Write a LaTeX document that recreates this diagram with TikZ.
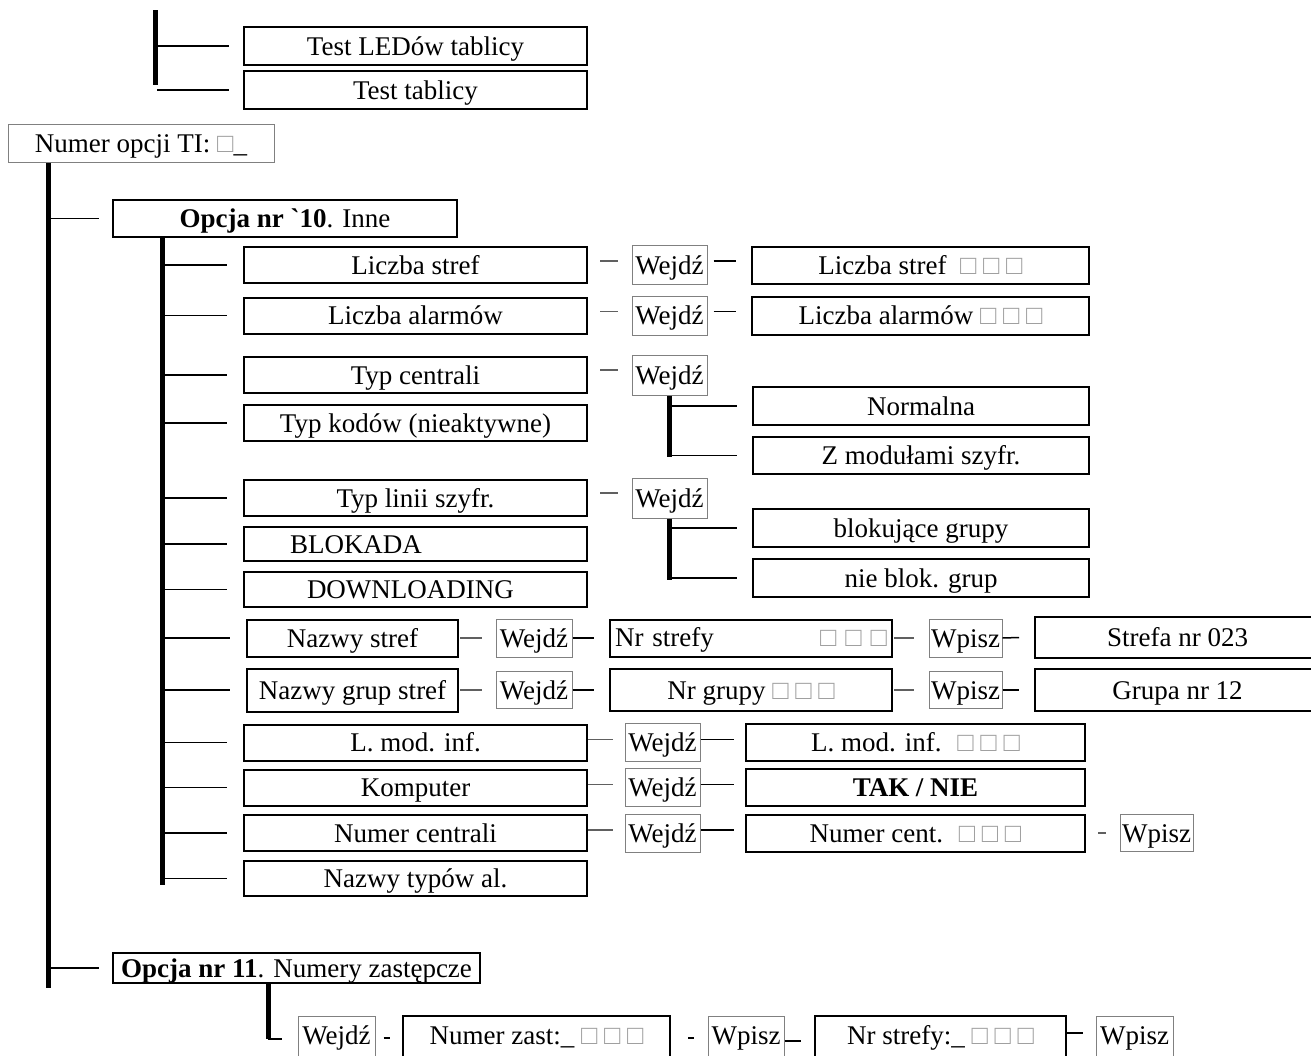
\documentclass[tikz,border=0pt]{standalone}
\usepackage{fontspec}
\setmainfont{Liberation Serif}
\newfontfamily\rawserif{Liberation Serif}[Ligatures=TeXOff]
\usetikzlibrary{calc}
\definecolor{sq}{HTML}{A0A0A0}
\definecolor{gbord}{HTML}{808080}
\definecolor{gdash}{HTML}{606060}
\newcommand\sqs{\textcolor{sq}{□ □ □}}
% name, x1, x2, cy, h, style, text
\newcommand\mybox[7]{\node[#6, minimum width={(#3-#2)*1pt}, minimum height={#5*1pt}] (#1) at ({(#2+#3)/2},#4) {#7};}
\tikzset{
  every node/.style={font=\fontsize{27}{32}\selectfont, inner sep=0pt, text height=18pt, text depth=0pt},
  bb/.style={draw=black, line width=2pt},
  gb/.style={draw=gbord, line width=1pt},
  bar/.style={line width=5pt},
  tl/.style={line width=1.5pt},
  gd/.style={line width=1.3pt, draw=gdash},
  bot/.style={text depth=10pt},
}
\newcommand\twig[1]{\draw[tl] (s2 |- #1.west) -- ([xshift=-16pt]#1.west);}
\begin{document}
\begin{tikzpicture}[x=1pt,y=-1pt]
\useasboundingbox (0,0) rectangle (1311,1055);
% ---------- top
\mybox{tled}{244}{587}{46}{38}{bb}{Test LEDów tablicy}
\mybox{ttab}{244}{587}{90}{38}{bb}{Test tablicy}
\coordinate (t1) at (155,10);
\coordinate (t2) at (155,85);
\draw[bar] (t1) -- (t2);
\draw[tl] ([xshift=-86pt]tled.west) -- ([xshift=-14pt]tled.west);
\draw[tl] ([xshift=-86pt]ttab.west) -- ([xshift=-14pt]ttab.west);
% ---------- root
\mybox{nop}{8}{274}{143}{38}{gb}{Numer opcji TI: \textcolor{sq}{□}\_}
\coordinate (m2) at (48,988);
\draw[bar] (nop.south -| m2) -- (m2);
\mybox{o10}{113}{457}{218.5}{37}{bb}{\textbf{Opcja nr {\rawserif`}10}. Inne}
\draw[tl] (m2 |- o10.west) -- ([xshift=-13pt]o10.west);
\coordinate (s2) at (162,885);
\draw[bar] (o10.south -| s2) -- (s2);
% ---------- row 1
\mybox{ls}{244}{587}{265}{36}{bb}{Liczba stref}
\mybox{wa}{632}{707}{265}{39}{gb}{Wejdź}
\mybox{rs}{752}{1089}{265}{37}{bb}{Liczba stref~ \sqs}
\twig{ls}
\draw[gd] ([xshift=12pt,yshift=4pt]ls.east) -- ([xshift=-14pt,yshift=4pt]wa.west);
\draw[tl] ([xshift=6pt,yshift=4pt]wa.east) -- ([xshift=-15pt,yshift=4pt]rs.west);
% ---------- row 2
\mybox{la}{244}{587}{315.5}{36}{bb}{Liczba alarmów}
\mybox{wb}{632}{707}{315.5}{39}{gb}{Wejdź}
\mybox{ra}{752}{1089}{315.5}{38}{bb}{Liczba alarmów \sqs}
\twig{la}
\draw[gd] ([xshift=12pt,yshift=4pt]la.east) -- ([xshift=-14pt,yshift=4pt]wb.west);
\draw[tl] ([xshift=6pt,yshift=4pt]wb.east) -- ([xshift=-15pt,yshift=4pt]ra.west);
% ---------- row 3
\mybox{tc}{244}{587}{375}{36}{bb}{Typ centrali}
\mybox{wc}{632}{707}{375}{40}{gb}{Wejdź}
\mybox{nor}{753}{1089}{406}{38}{bb}{Normalna}
\mybox{zm}{753}{1089}{455.5}{37}{bb}{Z modułami szyfr.}
\twig{tc}
\draw[gd] ([xshift=12pt,yshift=5pt]tc.east) -- ([xshift=-14pt,yshift=5pt]wc.west);
\draw[bar] (wc.south) -- ($(wc.south |- zm.west)+(0,1.5)$);
\draw[tl] (wc.south |- nor.west) -- ([xshift=-15pt]nor.west);
\draw[tl] (wc.south |- zm.west) -- ([xshift=-15pt]zm.west);
% ---------- row 4
\mybox{tk}{244}{587}{423}{36}{bb}{Typ kodów (nieaktywne)}
\twig{tk}
% ---------- row 5
\mybox{tli}{244}{587}{498}{36}{bb}{Typ linii szyfr.}
\mybox{wd}{632}{707}{498}{40}{gb}{Wejdź}
\mybox{blk}{753}{1089}{528}{38}{bb}{blokujące grupy}
\mybox{nbl}{753}{1089}{578}{38}{bb}{nie blok. grup}
\twig{tli}
\draw[gd] ([xshift=12pt,yshift=5pt]tli.east) -- ([xshift=-14pt,yshift=5pt]wd.west);
\draw[bar] (wd.south) -- ($(wd.south |- nbl.west)+(0,1.5)$);
\draw[tl] (wd.south |- blk.west) -- ([xshift=-15pt]blk.west);
\draw[tl] (wd.south |- nbl.west) -- ([xshift=-15pt]nbl.west);
% ---------- rows 6-7
\mybox{blo}{244}{587}{544}{34}{bb,text width=343pt,align=left}{\hspace*{46pt}BLOKADA}
\mybox{dl}{244}{587}{589.5}{35}{bb,text width=343pt,align=left}{\hspace*{63pt}DOWNLOADING}
\twig{blo}
\twig{dl}
% ---------- row 8
\mybox{ns}{247}{458}{638}{37}{bb}{Nazwy stref}
\mybox{wf}{496}{572}{638}{38}{gb}{Wejdź}
\mybox{nrs}{610}{892}{638}{37}{bb,text width=272pt,align=left,text height=16pt}{Nr strefy\hfill\sqs\hspace*{10pt}}
\mybox{pa}{929}{1002}{638}{38}{gb}{Wpisz}
\mybox{sn}{1035}{1320}{637.5}{41}{bb}{Strefa nr 023}
\twig{ns}
\draw[gd] ([xshift=1pt]ns.east) -- ([xshift=-14pt]wf.west);
\draw[tl] (wf.east) -- ([xshift=-15pt]nrs.west);
\draw[gd] ([xshift=1pt]nrs.east) -- ([xshift=-15pt]pa.west);
\draw[tl] (pa.east) -- ([xshift=-15pt]sn.west);
% ---------- row 9
\mybox{ngs}{247}{458}{690}{43}{bb}{Nazwy grup stref}
\mybox{wg}{496}{572}{690}{37}{gb}{Wejdź}
\mybox{nrg}{610}{892}{690}{42}{bb}{Nr grupy \sqs}
\mybox{pb}{929}{1002}{690}{37}{gb}{Wpisz}
\mybox{gn}{1035}{1320}{690}{42}{bb}{Grupa nr 12}
\twig{ngs}
\draw[gd] ([xshift=1pt]ngs.east) -- ([xshift=-14pt]wg.west);
\draw[tl] (wg.east) -- ([xshift=-15pt]nrg.west);
\draw[gd] ([xshift=1pt]nrg.east) -- ([xshift=-15pt]pb.west);
\draw[tl] (pb.east) -- ([xshift=-15pt]gn.west);
% ---------- row 10
\mybox{lm}{244}{587}{742.5}{36}{bb}{L. mod. inf.}
\mybox{wh}{625}{700}{742.5}{38}{gb}{Wejdź}
\mybox{rl}{746}{1085}{742.5}{37}{bb}{L. mod. inf.~ \sqs}
\twig{lm}
\draw[gd] ([yshift=3pt]lm.east) -- ([xshift=-12pt,yshift=3pt]wh.west);
\draw[tl] ([yshift=3pt]wh.east) -- ([xshift=-11pt,yshift=3pt]rl.west);
% ---------- row 11
\mybox{km}{244}{587}{787.5}{36}{bb}{Komputer}
\mybox{wi}{625}{700}{787.5}{38}{gb}{Wejdź}
\mybox{tak}{746}{1085}{787.5}{37}{bb}{\textbf{TAK / NIE}}
\twig{km}
\draw[gd] ([yshift=3pt]km.east) -- ([xshift=-12pt,yshift=3pt]wi.west);
\draw[tl] ([yshift=3pt]wi.east) -- ([xshift=-11pt,yshift=3pt]tak.west);
% ---------- row 12
\mybox{nc}{244}{587}{833}{36}{bb}{Numer centrali}
\mybox{wj}{625}{700}{833}{38}{gb}{Wejdź}
\mybox{rnc}{746}{1085}{833}{37}{bb}{Numer cent.~ \sqs}
\mybox{pc}{1120}{1193}{833}{37}{gb}{Wpisz}
\twig{nc}
\draw[gd] ([yshift=3pt]nc.east) -- ([xshift=-12pt,yshift=3pt]wj.west);
\draw[tl] ([yshift=3pt]wj.east) -- ([xshift=-11pt,yshift=3pt]rnc.west);
\draw[gd] ([xshift=12pt]rnc.east) -- ([xshift=-14pt]pc.west);
% ---------- row 13
\mybox{nt}{244}{587}{878.5}{35}{bb}{Nazwy typów al.}
\twig{nt}
% ---------- option 11
\mybox{o11}{113}{480}{968}{30}{bb}{\textbf{Opcja nr 11}. Numery zastępcze}
\draw[tl] (m2 |- o11.west) -- ([xshift=-13pt]o11.west);
\coordinate (ob) at (268,1039);
\draw[bar] (o11.south -| ob) -- (ob);
\mybox{wk}{298}{375}{1040}{48}{gb,bot}{Wejdź}
\mybox{nz}{403}{670}{1040}{48}{bb,bot}{Numer zast:\_ \sqs}
\mybox{pd}{708}{784}{1040}{48}{gb,bot}{Wpisz}
\mybox{nsz}{815}{1066}{1040}{48}{bb,bot}{Nr strefy:\_ \sqs}
\mybox{pe}{1096}{1173}{1040}{48}{gb,bot}{Wpisz}
\draw[tl] (ob) -- ($(ob -| wk.west)+(-16,0)$);
\draw[tl] ($(wk.east)+(8,-2)$) -- ($(wk.east)+(14,-2)$);
\draw[tl] ($(nz.east)+(17,-2)$) -- ($(nz.east)+(23,-2)$);
\draw[tl] ($(pd.east)+(0,1)$) -- ($(pd.east)+(16,1)$);
\draw[tl] ($(nsz.east)+(0,-7)$) -- ($(nsz.east)+(16,-7)$);
\end{tikzpicture}
\end{document}
